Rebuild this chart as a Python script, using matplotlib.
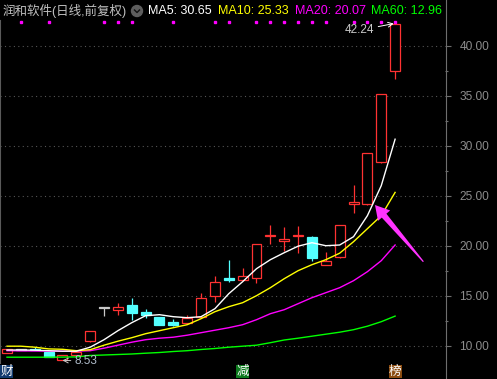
import numpy as np
import matplotlib
matplotlib.use('Agg')
import matplotlib.pyplot as plt
from matplotlib.lines import Line2D
from matplotlib.patches import Polygon, Ellipse
from matplotlib.transforms import blended_transform_factory, IdentityTransform

plt.rcParams['font.family'] = ['Liberation Sans', 'Noto Sans CJK SC', 'DejaVu Sans']

# daily candles (oldest -> newest)
opens  = [9.30, 9.60, 9.63, 9.34, 8.57, 9.07, 10.44, 13.74, 13.54, 14.07, 13.37, 12.87, 12.40, 12.24, 12.84,
          15.00, 16.74, 16.60, 16.80, 20.97, 20.44, 20.94, 20.87, 18.04, 18.90, 24.17, 24.14, 28.40, 37.44]
highs  = [9.66, 9.68, 9.90, 9.36, 9.10, 9.42, 11.52, 13.74, 14.24, 14.80, 13.67, 12.87, 12.64, 13.07, 15.24,
          16.97, 18.57, 17.80, 20.17, 22.07, 21.84, 21.97, 21.00, 19.40, 22.04, 26.07, 29.24, 35.14, 42.24]
lows   = [9.28, 9.55, 9.55, 8.88, 8.53, 9.05, 10.42, 13.00, 13.10, 12.57, 12.74, 12.10, 12.00, 12.24, 12.84,
          14.37, 16.34, 16.60, 16.30, 20.20, 19.50, 19.24, 18.44, 18.04, 18.74, 23.24, 24.04, 28.30, 36.64]
closes = [9.64, 9.60, 9.58, 8.90, 9.07, 9.40, 11.50, 13.74, 13.84, 13.24, 13.07, 12.10, 12.10, 12.80, 14.74,
          16.37, 16.60, 16.97, 20.17, 21.10, 20.64, 21.07, 18.80, 18.47, 22.04, 24.37, 29.24, 35.14, 42.14]

ma5  = [9.57, 9.57, 9.55, 9.50, 9.45, 9.45, 9.85, 10.6, 11.5, 12.3, 13.0, 13.1, 12.9, 12.8, 12.9,
        13.7, 15.2, 16.4, 17.7, 18.6, 19.3, 19.95, 20.3, 20.0, 20.07, 20.9, 23.0, 26.0, 30.65]
ma10 = [9.95, 9.95, 9.85, 9.68, 9.64, 9.50, 9.60, 10.05, 10.45, 10.8, 11.2, 11.5, 11.8, 12.1, 12.7,
        13.4, 13.9, 14.3, 15.0, 15.8, 16.7, 17.5, 18.1, 18.6, 19.25, 20.4, 21.7, 23.0, 25.33]
ma20 = [9.50, 9.48, 9.47, 9.46, 9.45, 9.45, 9.50, 9.75, 10.05, 10.35, 10.6, 10.75, 10.85, 11.05, 11.3,
        11.55, 11.8, 12.1, 12.6, 13.2, 13.6, 14.2, 14.8, 15.3, 15.8, 16.5, 17.4, 18.5, 20.07]
ma60 = [8.85, 8.85, 8.85, 8.85, 8.86, 8.88, 9.02, 9.07, 9.12, 9.17, 9.25, 9.32, 9.42, 9.50, 9.62,
        9.72, 9.85, 9.95, 10.05, 10.3, 10.57, 10.75, 10.95, 11.15, 11.35, 11.6, 11.95, 12.4, 12.96]

signal_days = [1, 3, 7, 8, 9, 12, 15, 16, 18, 19, 20, 21, 22, 23, 25, 26, 27, 28]
event_days = [0, 17, 28]
event_chars = ['财', '减', '榜']
event_colors = ['#123a6e', '#0d7a1e', '#8a4b10']

title = '润和软件(日线,前复权)'
ma_labels = ['MA5: 30.65', 'MA10: 25.33', 'MA20: 20.07', 'MA60: 12.96']

RED, CYAN, GRAY = '#ff3232', '#54ffff', '#c8c8c8'
MA_COLORS = ['#ffffff', '#ffff00', '#ff00ff', '#00ff00']
W, H = 497, 379

fig = plt.figure(figsize=(W / 100, H / 100), dpi=100, facecolor='black')
ax = fig.add_axes([0, 1 - 363 / H, 445 / W, 343 / H])
ax.set_facecolor('black')
ax.set_xlim(-0.505, 31.6)
ax.set_ylim(8.27, 42.57)

o, h, l, c = map(np.array, (opens, highs, lows, closes))
x = np.arange(len(o))
bot = np.minimum(o, c)
top = np.maximum(o, c)
hgt = np.maximum(top - bot, 0.1)
col = np.where(c > o, RED, np.where(c < o, CYAN, GRAY))

up = c > o
ax.bar(x[up], hgt[up], bottom=bot[up], width=0.72, facecolor='black', edgecolor=RED, linewidth=0.9, zorder=2)
dn = ~up
ax.bar(x[dn], hgt[dn], bottom=bot[dn], width=0.72, color=col[dn], edgecolor=col[dn], linewidth=0.9, zorder=2)
ax.vlines(x, bot + hgt, h, colors=col, linewidth=0.9, zorder=2)
ax.vlines(x, l, bot, colors=col, linewidth=0.9, zorder=2)

for m, cl in zip([ma60, ma20, ma10, ma5], MA_COLORS[::-1]):
    ax.plot(x, m, color=cl, lw=1.0, zorder=3)

# signal dots along the top
btr = blended_transform_factory(ax.transData, ax.transAxes)
ax.plot(signal_days, [0.9933] * len(signal_days), 's', ms=1.5, color='#ff00ff', transform=btr, clip_on=False)

# grid / axis
ax.set_yticks(np.arange(10, 41, 5))
ax.set_yticks(np.arange(12.5, 41, 5), minor=True)
ax.set_yticklabels(['%.2f' % v for v in np.arange(10, 41, 5)])
ax.yaxis.tick_right()
ax.set_xticks([])
ax.grid(axis='y', color='#555555', linestyle=(0, (1, 3)), lw=0.8)
ax.tick_params(axis='y', which='major', colors='#6e6e6e', labelcolor='#8c8c8c', length=4.3, width=0.8,
               pad=6, labelsize=8.6)
ax.tick_params(axis='y', which='minor', colors='#6e6e6e', length=2.2, width=0.8)
for s in ['top', 'bottom', 'right']:
    ax.spines[s].set_visible(False)
ax.spines['left'].set_color('#5a5a5a')
fig.add_artist(Line2D([445.5 / W] * 2, [0, 1], color='#6e6e6e', lw=0.8))

# high / low labels
ax.annotate('42.24', xy=(28, 42.24), xytext=(-21, -7), textcoords='offset pixels', ha='right', va='center',
            color='#c8c8c8', fontsize=8.5,
            arrowprops=dict(arrowstyle='->', color='white', lw=0.7, shrinkA=1, shrinkB=1))
ax.annotate('8.53', xy=(4, 8.53), xytext=(12.5, -0.6), textcoords='offset pixels', ha='left', va='center',
            color='#b0bccb', fontsize=8.5,
            arrowprops=dict(arrowstyle='->', color='#c8c8c8', lw=0.7, shrinkA=1, shrinkB=0))

# header
fig.text(3 / W, 1 - 11 / H, title, color='#c0c0c0', fontsize=9, va='center', ha='left')
fig.add_artist(Ellipse((137 / W, 1 - 11 / H), 11 / W, 11 / H, color='#5e5e5e', transform=fig.transFigure))
fig.add_artist(Line2D([134.5 / W, 137 / W, 139.5 / W], [1 - 10 / H, 1 - 12.5 / H, 1 - 10 / H],
                      color='#111111', lw=1.0))
for s, cl, px in zip(ma_labels, MA_COLORS, [148, 218, 295, 371]):
    fig.text(px / W, 1 - 11 / H, s, color=cl, fontsize=9, va='center', ha='left')

# event tags under the chart
ftr = blended_transform_factory(ax.transData, fig.transFigure)
for d, ch, bc in zip(event_days, event_chars, event_colors):
    ax.text(d, 1 - 371.5 / H, ch, transform=ftr, ha='center', va='center', color='white', fontsize=9,
            family=['Noto Sans CJK SC'], clip_on=False,
            bbox=dict(boxstyle='square,pad=0.02', facecolor=bc, edgecolor='none'))

# magenta pointer arrow
fig.canvas.draw()
tip = ax.transData.transform((26.55, 24.07))
tail = ax.transData.transform((30.04, 18.4))
d = tip - tail
u = d / np.hypot(*d)
n = np.array([-u[1], u[0]])
base = tip - u * 14
pts = [tail + n * 0.6, base + n * 3, base + n * 8, tip, base - n * 8, base - n * 3, tail - n * 0.6]
fig.add_artist(Polygon(pts, closed=True, transform=IdentityTransform(), facecolor='#ff33ff',
                       edgecolor='none', zorder=5))

fig.savefig('out.png', dpi=100, facecolor='black')
